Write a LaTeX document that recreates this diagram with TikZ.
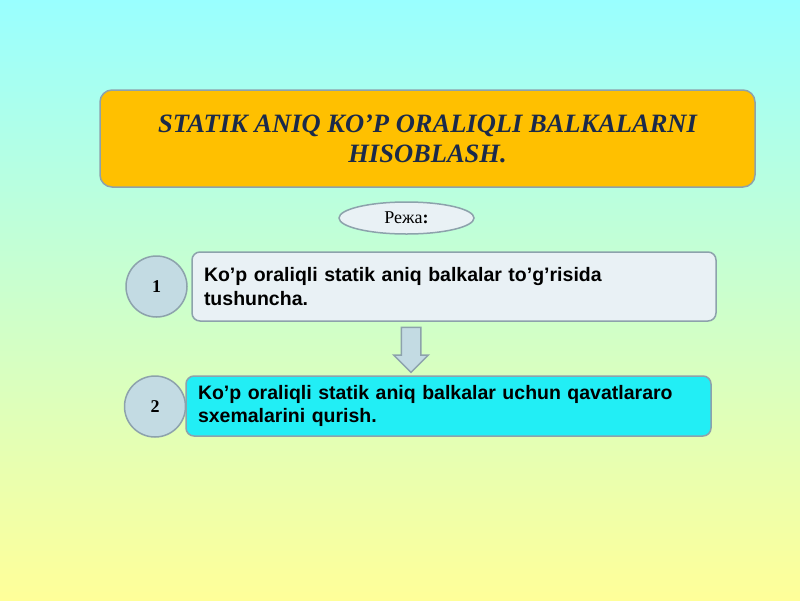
\documentclass[tikz,border=0pt]{standalone}
\usepackage{fontspec}
\setmainfont{Liberation Serif}
\setsansfont{Liberation Sans}
\usetikzlibrary{positioning, shapes, shapes.arrows}
\definecolor{bgtop}{HTML}{99FFFF}
\definecolor{bgbot}{HTML}{FFFF99}
\definecolor{titleorange}{HTML}{FFC000}
\definecolor{titleblue}{HTML}{1B2A4A}
\definecolor{framegray}{HTML}{8DA2AC}
\definecolor{palebox}{HTML}{E9F1F5}
\definecolor{cyanbox}{HTML}{22EEF5}
\definecolor{roundblue}{HTML}{C3DBE3}
\tikzset{
    %Define style for the title
    titlebox/.style={
           rectangle,
           rounded corners=12pt,
           draw=framegray, line width=1.5pt,
           fill=titleorange,
           minimum width=655pt,
           minimum height=97pt,
           align=center,
           text=titleblue,
           font=\fontsize{26.5}{30}\selectfont\bfseries\itshape},
 %
    planbox/.style={
           ellipse,
           draw=framegray, line width=1.5pt,
           fill=palebox,
           minimum width=135pt,
           minimum height=32pt,
           inner sep=0pt,
           font=\fontsize{18}{20}\selectfont},
 %
    stepbox/.style={
           rectangle,
           rounded corners=8pt,
           draw=framegray, line width=1.5pt,
           inner xsep=12pt,
           align=left,
           font=\sffamily\bfseries\fontsize{19.5}{23.5}\selectfont},
 %
    numcircle/.style={
           circle,
           draw=framegray, line width=1.5pt,
           fill=roundblue,
           minimum size=61pt,
           inner sep=0pt,
           font=\bfseries\fontsize{18}{20}\selectfont},
 %
    % Define arrow style
    downarrow/.style={
           single arrow,
           shape border rotate=270,
           draw=framegray, line width=1.5pt,
           fill=roundblue,
           inner sep=9pt,
           minimum height=45pt,
           single arrow head extend=7.5pt}
}
\begin{document}
\begin{tikzpicture}[x=1pt, y=-1pt]
  \useasboundingbox (0,0) rectangle (800,600);
  \shade[top color=bgtop, bottom color=bgbot] (0,0) rectangle (800,600);

  \node[titlebox] (title) at (427.5,138.5) {STATIK ANIQ KO’P ORALIQLI BALKALARNI\\HISOBLASH.};
  \node[planbox] (plan) at (406.5,218) {Режа\textbf{:}};

  \node[stepbox, fill=palebox, minimum width=524pt, minimum height=69pt, text width=500pt] (first) at (454,286.5)
      {Ko’p oraliqli statik aniq balkalar to’g’risida\\tushuncha.};
  \node[stepbox, fill=cyanbox, minimum width=525pt, minimum height=60pt, text width=501pt] (second) at (448.5,406)
      {Ko’p oraliqli statik aniq balkalar uchun qavatlararo\\sxemalarini qurish.};

  \node[numcircle] (one) at (156.5,286.5) {1};
  \node[numcircle] (two) at (155,406.5) {2};

  \node[downarrow] (step) at (411,345) {};
\end{tikzpicture}
\end{document}
